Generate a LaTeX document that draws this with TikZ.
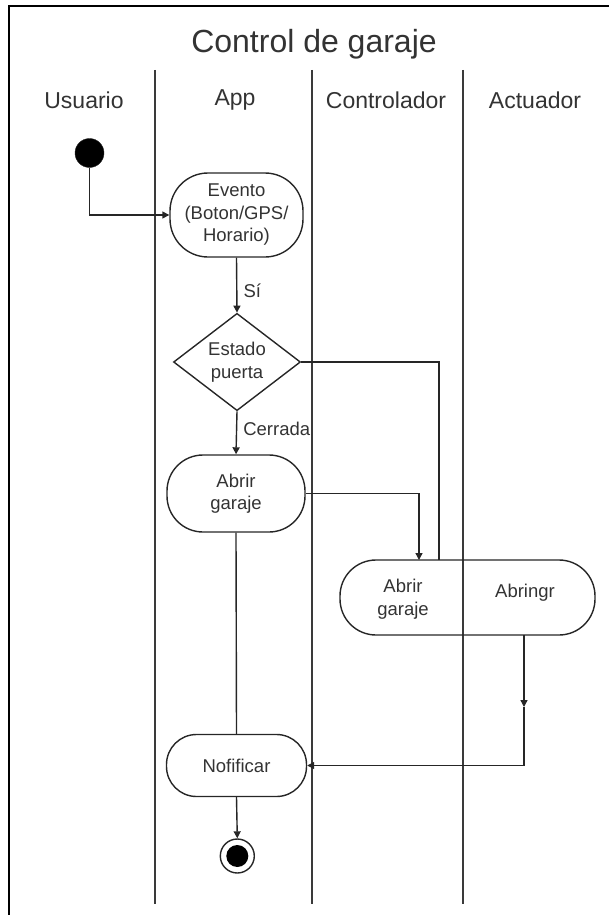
\documentclass[tikz,border=0pt]{standalone}
\usepackage{fontspec}
\setmainfont{Liberation Sans}
\usetikzlibrary{arrows.meta,shapes.geometric}
\definecolor{ink}{HTML}{262626}
\definecolor{txt}{HTML}{333333}
\definecolor{lane}{HTML}{3A3A3A}
\begin{document}
\begin{tikzpicture}[x=1pt,y=-1pt,
  every node/.style={text=txt},
  bodyf/.style={font=\fontsize{18.5}{22.5}\selectfont},
  act/.style={draw=ink, line width=1.4pt, rounded corners=#1, inner sep=0pt, align=center, bodyf},
  act/.default=30pt,
  dec/.style={draw=ink, line width=1.4pt, diamond, inner sep=0pt, align=center, bodyf, minimum width=127pt, minimum height=97pt},
  plain/.style={inner sep=0pt, align=center, bodyf},
  head/.style={inner sep=0pt, font=\fontsize{23}{27}\selectfont},
  lanel/.style={draw=lane, line width=1.6pt},
  conn/.style={draw=ink, line width=1.4pt},
  arr/.style={conn, -{Triangle[width=7pt,length=7pt]}},
  lbl/.style={inner sep=0pt, anchor=west, bodyf}
]
\useasboundingbox (0,0) rectangle (609,915);
% frame (only top and left visible)
\draw[line width=2pt, black] (9,915) -- (9,6) -- (609,6);
% title
\node[inner sep=0pt, font=\fontsize{32}{36}\selectfont] (title) at (314,44) {Control de garaje};
% lanes
\draw[lanel] (155,70) -- (155,904);
\draw[lanel] (312,70) -- (312,904);
\draw[lanel] (463,70) -- (463,904);
\node[head] (hu) at (84,100) {Usuario};
\node[head] (ha) at (235,100) {App};
\node[head] (hc) at (386,100) {Controlador};
\node[head] (hac) at (535,100) {Actuador};
% nodes
\node[circle, fill=black, draw=ink, inner sep=0pt, minimum size=29pt] (start) at (89.5,153) {};
\node[act=38pt, minimum width=133pt, minimum height=84pt] (evento) at (236.5,215) {Evento\\(Boton/GPS/\\Horario)};
\node[dec] (dia) at (237,362) {Estado\\puerta};
\node[act=36pt, minimum width=138pt, minimum height=77pt] (abrir) at (236,493.5) {Abrir\\garaje};
\node[act=36pt, minimum width=255pt, minimum height=75pt] (ctrl) at (467.5,597.5) {};
\node[plain] (ctrlA) at (403,599) {Abrir\\garaje};
\node[plain] (ctrlB) at (525,593) {Abringr};
\node[act=30pt, minimum width=140pt, minimum height=62pt] (notif) at (236.5,765.5) {Nofificar};
\node[circle, draw=ink, line width=1.4pt, inner sep=0pt, minimum size=34pt] (fin) at (237.3,856) {};
\node[circle, fill=black, inner sep=0pt, minimum size=22pt] (finin) at (fin.center) {};
% connectors
\coordinate (c1) at (439,560);
\coordinate (c2) at (419,560);
\coordinate (c3) at (524,635);
\coordinate (c4) at (524,707);
\draw[arr] (start) |- (evento.west);
\draw[arr] (evento.south) -- node[lbl, pos=0.6, xshift=6pt] (lsi) {Sí} (dia.north);
\draw[arr] (dia.south) -- node[lbl, pos=0.4, xshift=6pt] (lcer) {Cerrada} (abrir.north);
\draw[conn] (dia.east) -| (c1);
\draw[arr] (abrir.east) -| (c2);
\draw[arr] (c3) -- (c4);
\draw[arr] (c4) |- (notif.east);
\draw[conn] (abrir.south) -- (notif.north);
\draw[arr] (notif.south) -- (fin.north);
\end{tikzpicture}
\end{document}
